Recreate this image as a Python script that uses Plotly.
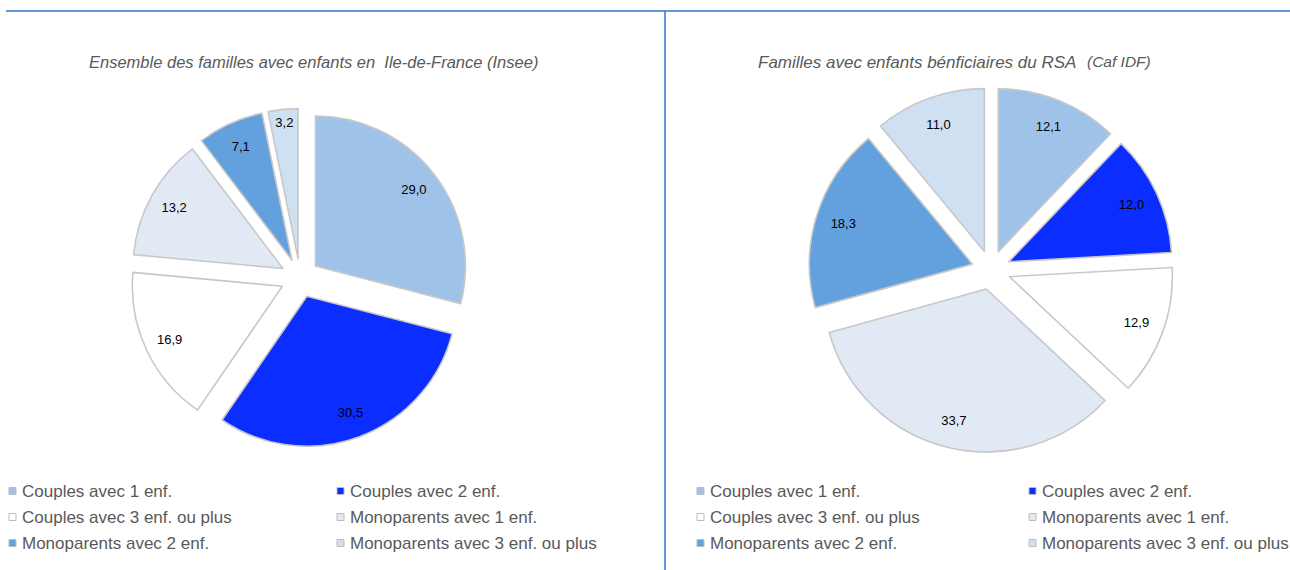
import plotly.graph_objects as go

# ---------------- data ----------------
labels = [
    "Couples avec 1 enf.",
    "Couples avec 2 enf.",
    "Couples avec 3 enf. ou plus",
    "Monoparents avec 1 enf.",
    "Monoparents avec 2 enf.",
    "Monoparents avec 3 enf. ou plus",
]
insee_values = [29.0, 30.5, 16.9, 13.2, 7.1, 3.2]
caf_values = [12.1, 12.0, 12.9, 33.7, 18.3, 11.0]
colors = ["#9fc2e8", "#0b2dff", "#ffffff", "#e1e9f4", "#62a1dd", "#cfe0f3"]

title_left = "Ensemble des familles avec enfants en  Ile-de-France (Insee)"
title_right = "Familles avec enfants bénficiaires du RSA"
title_right_src = "(Caf IDF)"

# ---------------- layout helpers ----------------
W, H = 1290, 570
FONT = "Liberation Sans, Arial, sans-serif"
GREY = "#595959"


def px(x):
    return x / W


def py(y):
    return 1 - y / H


def pie_domain(cx, cy, r, pull):
    half = r * (1 + pull)
    return dict(x=[px(cx - half), px(cx + half)], y=[py(cy + half), py(cy - half)])


fig = go.Figure()


def add_pie(values, dom, pull):
    common = dict(
        values=values,
        labels=labels,
        sort=False,
        direction="clockwise",
        rotation=0,
        pull=pull,
        domain=dom,
        showlegend=False,
    )
    fig.add_trace(go.Pie(
        marker=dict(colors=colors, line=dict(color="#c8c8c8", width=1.6)),
        textinfo="none",
        hoverinfo="label+value",
        **common,
    ))
    # transparent ring used only to place the value labels near the outer edge
    fig.add_trace(go.Pie(
        marker=dict(colors=["rgba(0,0,0,0)"] * len(values), line=dict(width=0)),
        hole=0.66,
        texttemplate="%{value:.1f}",
        textposition="inside",
        insidetextorientation="horizontal",
        textfont=dict(family=FONT, size=13, color="#000000"),
        hoverinfo="skip",
        **common,
    ))


add_pie(insee_values, pie_domain(300, 278, 150, 0.13), 0.13)
add_pie(caf_values, pie_domain(991, 270, 163, 0.12), 0.12)

shapes = [
    dict(type="line", xref="paper", yref="paper", x0=px(6), x1=1, y0=py(11), y1=py(11),
         line=dict(color="#2f74c8", width=1.6)),
    dict(type="line", xref="paper", yref="paper", x0=px(665), x1=px(665), y0=py(11), y1=0,
         line=dict(color="#2f74c8", width=1.5)),
]
annotations = [
    dict(text=title_left, x=px(313), y=py(62), xref="paper", yref="paper",
         xanchor="center", yanchor="middle", showarrow=False,
         font=dict(family=FONT, size=16.5, color=GREY, style="italic")),
    dict(text=title_right, x=px(756), y=py(62), xref="paper", yref="paper",
         xanchor="left", yanchor="middle", showarrow=False,
         font=dict(family=FONT, size=17, color=GREY, style="italic")),
    dict(text=title_right_src, x=px(1085), y=py(61), xref="paper", yref="paper",
         xanchor="left", yanchor="middle", showarrow=False,
         font=dict(family=FONT, size=15.5, color=GREY, style="italic")),
]

# manual two-column legends
legend_origins = [(9, 337), (697, 1029)]
row_y = [491, 517, 543]
for col_x in legend_origins:
    for i, lab in enumerate(labels):
        sx = col_x[i % 2]
        sy = row_y[i // 2]
        shapes.append(dict(type="rect", xref="paper", yref="paper",
                           x0=px(sx), x1=px(sx + 7), y0=py(sy - 3.5), y1=py(sy + 3.5),
                           fillcolor=colors[i], line=dict(color="#bdbdbd", width=1)))
        annotations.append(dict(text=lab, x=px(sx + 11), y=py(sy), xref="paper", yref="paper",
                                xanchor="left", yanchor="middle", showarrow=False,
                                font=dict(family=FONT, size=17, color=GREY)))

fig.update_layout(
    width=W,
    height=H,
    margin=dict(l=0, r=0, t=0, b=0),
    paper_bgcolor="#ffffff",
    plot_bgcolor="#ffffff",
    separators=", ",
    shapes=shapes,
    annotations=annotations,
    showlegend=False,
)

# remove the default page margin so the 1290x570 figure fills the window exactly
fig.write_html(
    "out.html",
    config={"displayModeBar": False},
    post_script="document.body.style.margin='0';document.body.style.overflow='hidden';",
)
